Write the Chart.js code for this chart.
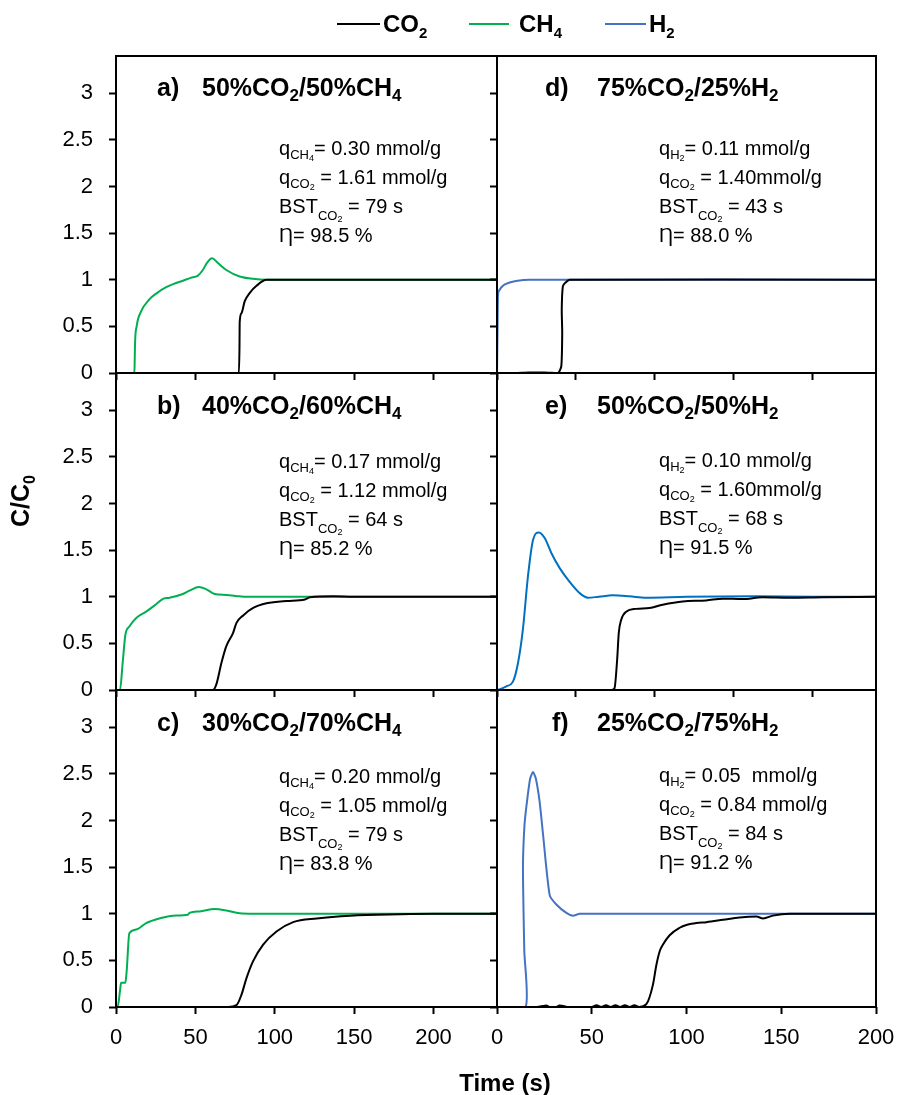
<!DOCTYPE html>
<html>
<head>
<meta charset="utf-8">
<script src="https://cdn.jsdelivr.net/npm/chart.js@4.4.1/dist/chart.umd.min.js"></script>
<style>
html,body{margin:0;padding:0;background:#fff;}
#wrap{position:relative;width:897px;height:1095px;overflow:hidden;font-family:"Liberation Sans",Arial,sans-serif;color:#000;background:#fff;}
canvas{position:absolute;left:0;top:0;}
.t{position:absolute;font-weight:bold;font-size:25px;line-height:30px;white-space:nowrap;}
.t .ts{font-size:17px;position:relative;top:5px;}
.ann{position:absolute;font-size:20px;line-height:25px;white-space:nowrap;}
.s1{font-size:13px;position:relative;top:4px;}
.s1b{font-size:13px;position:relative;top:7px;}
.s2{font-size:9px;position:relative;top:2px;}
.leg{position:absolute;font-weight:bold;font-size:24px;line-height:28px;white-space:nowrap;top:10px;}
.leg .ls{font-size:15px;position:relative;top:6px;}
.sw{position:absolute;height:2px;top:23px;}
</style>
</head>
<body>
<div id="wrap">
<canvas id="ca" width="897" height="1095"></canvas>
<canvas id="cb" width="897" height="1095"></canvas>
<canvas id="cc" width="897" height="1095"></canvas>
<canvas id="cd" width="897" height="1095"></canvas>
<canvas id="ce" width="897" height="1095"></canvas>
<canvas id="cf" width="897" height="1095"></canvas>

<!-- legend -->
<div class="sw" style="left:337px;width:43px;background:#000;"></div>
<div class="leg" style="left:383px;">CO<span class="ls">2</span></div>
<div class="sw" style="left:469px;width:40px;background:#00B050;"></div>
<div class="leg" style="left:519px;">CH<span class="ls">4</span></div>
<div class="sw" style="left:605px;width:41px;background:#4472C4;"></div>
<div class="leg" style="left:649px;">H<span class="ls">2</span></div>

<!-- titles -->
<div class="t" style="left:157px;top:72px;">a)</div>
<div class="t" style="left:202px;top:72px;">50%CO<span class="ts">2</span>/50%CH<span class="ts">4</span></div>
<div class="t" style="left:157px;top:390px;">b)</div>
<div class="t" style="left:202px;top:390px;">40%CO<span class="ts">2</span>/60%CH<span class="ts">4</span></div>
<div class="t" style="left:157px;top:707px;">c)</div>
<div class="t" style="left:202px;top:707px;">30%CO<span class="ts">2</span>/70%CH<span class="ts">4</span></div>
<div class="t" style="left:545px;top:72px;">d)</div>
<div class="t" style="left:597px;top:72px;">75%CO<span class="ts">2</span>/25%H<span class="ts">2</span></div>
<div class="t" style="left:545px;top:390px;">e)</div>
<div class="t" style="left:597px;top:390px;">50%CO<span class="ts">2</span>/50%H<span class="ts">2</span></div>
<div class="t" style="left:552px;top:707px;">f)</div>
<div class="t" style="left:597px;top:707px;">25%CO<span class="ts">2</span>/75%H<span class="ts">2</span></div>

<!-- annotations -->
<div class="ann" style="left:279px;top:136px;">q<span class="s1">CH<span class="s2">4</span></span>= 0.30 mmol/g<br>q<span class="s1">CO<span class="s2">2</span></span> = 1.61 mmol/g<br>BST<span class="s1b">CO<span class="s2">2</span></span> = 79 s<br>Ƞ= 98.5 %</div>
<div class="ann" style="left:279px;top:449px;">q<span class="s1">CH<span class="s2">4</span></span>= 0.17 mmol/g<br>q<span class="s1">CO<span class="s2">2</span></span> = 1.12 mmol/g<br>BST<span class="s1b">CO<span class="s2">2</span></span> = 64 s<br>Ƞ= 85.2 %</div>
<div class="ann" style="left:279px;top:764px;">q<span class="s1">CH<span class="s2">4</span></span>= 0.20 mmol/g<br>q<span class="s1">CO<span class="s2">2</span></span> = 1.05 mmol/g<br>BST<span class="s1b">CO<span class="s2">2</span></span> = 79 s<br>Ƞ= 83.8 %</div>
<div class="ann" style="left:659px;top:136px;">q<span class="s1">H<span class="s2">2</span></span>= 0.11 mmol/g<br>q<span class="s1">CO<span class="s2">2</span></span> = 1.40mmol/g<br>BST<span class="s1b">CO<span class="s2">2</span></span> = 43 s<br>Ƞ= 88.0 %</div>
<div class="ann" style="left:659px;top:448px;">q<span class="s1">H<span class="s2">2</span></span>= 0.10 mmol/g<br>q<span class="s1">CO<span class="s2">2</span></span> = 1.60mmol/g<br>BST<span class="s1b">CO<span class="s2">2</span></span> = 68 s<br>Ƞ= 91.5 %</div>
<div class="ann" style="left:659px;top:763px;">q<span class="s1">H<span class="s2">2</span></span>= 0.05&nbsp; mmol/g<br>q<span class="s1">CO<span class="s2">2</span></span> = 0.84 mmol/g<br>BST<span class="s1b">CO<span class="s2">2</span></span> = 84 s<br>Ƞ= 91.2 %</div>

<!-- axis titles -->
<div style="position:absolute;left:22px;top:501px;transform:translate(-50%,-50%) rotate(-90deg);font-weight:bold;font-size:25px;line-height:30px;white-space:nowrap;">C/C<span style="font-size:16px;position:relative;top:6px;">0</span></div>
<div style="position:absolute;left:505px;top:1083px;transform:translate(-50%,-50%);font-weight:bold;font-size:24px;line-height:30px;white-space:nowrap;">Time (s)</div>
</div>

<script>
// ---- tick arrays ----
const xTickValues = [0, 50, 100, 150, 200];
const xTickLabels = ['0', '50', '100', '150', '200'];
const yTickValues = [0, 0.5, 1, 1.5, 2, 2.5, 3];
const yTickLabels = ['0', '0.5', '1', '1.5', '2', '2.5', '3'];

// ---- panel a: 50%CO2/50%CH4 ----
const aTimeCO2 = [0, 77.4, 77.8, 77.9, 79, 81.1, 84.3, 88.5, 94.8, 240];
const aCO2     = [0, 0, 0.3, 0.54, 0.64, 0.77, 0.86, 0.935, 1.0, 1.0];
const aTimeCH4 = [0, 11.6, 11.8, 12.0, 13.0, 15.8, 21, 26, 31.6, 37, 42.1, 47, 51.6, 54.7, 57.3, 60.5, 64.2, 69.5, 77.9, 86.3, 94.8, 240];
const aCH4     = [0, 0, 0.15, 0.32, 0.5, 0.66, 0.79, 0.86, 0.92, 0.96, 0.99, 1.02, 1.045, 1.105, 1.18, 1.23, 1.18, 1.105, 1.035, 1.01, 1.0, 1.0];

// ---- panel b: 40%CO2/60%CH4 ----
const bTimeCO2 = [0, 61.1, 63.2, 66.4, 69.5, 73.7, 75.9, 80.1, 86.4, 94.8, 107.5, 119, 122.2, 136.9, 149.6, 240];
const bCO2     = [0, 0, 0.06, 0.29, 0.47, 0.61, 0.72, 0.80, 0.88, 0.93, 0.955, 0.97, 0.995, 1.005, 1.0, 1.0];
const bTimeCH4 = [0, 2.5, 4.2, 5.9, 8.4, 12.6, 19, 25.3, 29.9, 33.7, 42.1, 46.3, 52.2, 56.9, 62.1, 69.5, 77.9, 82.1, 240];
const bCH4     = [0, 0, 0.29, 0.59, 0.68, 0.77, 0.84, 0.92, 0.98, 0.99, 1.03, 1.065, 1.105, 1.08, 1.03, 1.02, 1.005, 1.0, 1.0];

// ---- panel c: 30%CO2/70%CH4 ----
const cTimeCO2 = [0, 70.6, 75.9, 79, 82.2, 86.3, 92.7, 101.1, 111.6, 126.4, 147.5, 179, 200, 240];
const cCO2     = [0, 0, 0.02, 0.13, 0.31, 0.49, 0.67, 0.81, 0.91, 0.95, 0.98, 0.995, 1.0, 1.0];
const cTimeCH4 = [0, 1.0, 2.5, 3.2, 5.9, 6.7, 8.4, 12.6, 19, 27.4, 35.8, 45.3, 46.3, 52.7, 62.1, 69.5, 77.9, 86.4, 240];
const cCH4     = [0, 0, 0.17, 0.26, 0.26, 0.38, 0.79, 0.83, 0.9, 0.95, 0.98, 0.99, 1.01, 1.025, 1.05, 1.035, 1.005, 1.0, 1.0];

// ---- panel d: 75%CO2/25%H2 ----
const dTimeCO2 = [0, 11.4, 20, 30, 38.6, 40.7, 41.3, 41.0, 41.7, 43.4, 46, 240];
const dCO2     = [0, 0, 0.005, 0.005, 0, 0.07, 0.43, 0.68, 0.93, 0.97, 1.0, 1.0];
const dTimeH2  = [0, 0.3, 0.6, 1.2, 2.8, 5, 8, 13, 20.6, 240];
const dH2      = [0, 0.4, 0.82, 0.88, 0.92, 0.95, 0.97, 0.99, 1.0, 1.0];

// ---- panel e: 50%CO2/50%H2 ----
const eTimeCO2 = [0, 72.3, 74.4, 76.1, 77.1, 78.6, 81.8, 88.1, 96.5, 104.9, 117.6, 132.4, 142.9, 155.5, 168.1, 185, 206, 240];
const eCO2     = [0, 0, 0.02, 0.33, 0.61, 0.75, 0.84, 0.87, 0.88, 0.915, 0.95, 0.96, 0.98, 0.975, 0.995, 0.99, 0.995, 1.0];
const eTimeH2  = [0, 2, 5.9, 10.1, 13.3, 16.4, 19.6, 22.8, 26.5, 30.2, 34.4, 39.6, 46, 52.3, 57.5, 64.4, 73.3, 83.8, 94.3, 120, 164, 200, 240];
const eH2      = [0, 0.01, 0.04, 0.09, 0.29, 0.65, 1.22, 1.61, 1.69, 1.63, 1.47, 1.31, 1.16, 1.04, 0.99, 1.0, 1.015, 1.005, 0.99, 1.0, 1.005, 1.0, 1.0];

// ---- panel f: 25%CO2/75%H2 ----
const fTimeCO2 = [0, 15, 20, 24, 26, 28, 31, 33, 35, 37, 40, 45, 50, 52.5, 55, 57.5, 60, 62.5, 65, 67.5, 70, 72.5, 75, 78.8, 82.3, 84.1, 85.9, 87.6, 91.1, 96.4, 99.9, 105.2, 110.5, 119.3, 128, 136.9, 140.4, 145.6, 154.5, 200];
const fCO2     = [0, 0, 0, 0.01, 0.015, 0.0, 0.0, 0.015, 0.01, 0.0, 0.0, 0.0, 0.0, 0.02, 0.0, 0.02, 0.0, 0.02, 0.0, 0.02, 0.0, 0.02, 0.0, 0.03, 0.24, 0.45, 0.6, 0.67, 0.77, 0.85, 0.88, 0.9, 0.91, 0.935, 0.96, 0.97, 0.95, 0.98, 1.0, 1.0];
const fTimeH2  = [0, 15.1, 14.4, 13.7, 14.5, 15.8, 17.5, 19, 20.5, 22.5, 24.3, 27.8, 31.3, 36.6, 40.1, 43.6, 200];
const fH2      = [0, 0, 0.6, 1.49, 1.95, 2.2, 2.45, 2.52, 2.45, 2.2, 1.85, 1.2, 1.1, 1.01, 0.98, 1.0, 1.0];

const COL_CO2 = '#000000';
const COL_CH4 = '#00B050';
const COL_H2 = '#4472C4';
const COL_H2e = '#0070C0';

function pts(t, v) { return t.map((x, i) => ({ x: x, y: v[i] })); }

const boxPlugin = {
  id: 'box',
  afterDraw(chart) {
    const { ctx, chartArea: a } = chart;
    ctx.save();
    ctx.strokeStyle = '#000';
    ctx.lineWidth = 2;
    ctx.strokeRect(a.left, a.top, a.right - a.left, a.bottom - a.top);
    ctx.restore();
  }
};

const FONT = '"Liberation Sans", Arial, sans-serif';
const W = 897, H = 1095, YW = 100, XH = 45;

function makePanel(id, box, xMax, series, showX, showY) {
  const ctx = document.getElementById(id).getContext('2d');
  new Chart(ctx, {
    type: 'line',
    data: {
      datasets: series.map(s => ({
        data: pts(s.t, s.v),
        borderColor: s.color,
        borderWidth: 2,
        pointRadius: 0,
        fill: false,
        cubicInterpolationMode: s.mono ? 'monotone' : 'default',
        tension: s.mono ? 0 : 0.2
      }))
    },
    options: {
      responsive: false,
      animation: false,
      devicePixelRatio: 1,
      events: [],
      layout: {
        autoPadding: false,
        padding: { left: box.l - YW, top: box.t, right: W - box.r, bottom: H - box.b - XH }
      },
      plugins: { legend: { display: false }, tooltip: { enabled: false } },
      scales: {
        x: {
          type: 'linear', min: 0, max: xMax,
          afterBuildTicks(s) { s.ticks = xTickValues.map(v => ({ value: v })); },
          afterFit(s) { s.height = XH; s.paddingLeft = 0; s.paddingRight = 0; },
          grid: { display: true, drawOnChartArea: false, drawTicks: true, tickLength: 7, tickWidth: 2, tickColor: '#000' },
          border: { display: false },
          ticks: {
            display: showX, autoSkip: false, maxRotation: 0, padding: 11, color: '#000',
            font: { family: FONT, size: 22 },
            callback: (v, i) => xTickLabels[i]
          }
        },
        y: {
          type: 'linear', min: 0, max: 3.4,
          afterBuildTicks(s) { s.ticks = yTickValues.map(v => ({ value: v })); },
          afterFit(s) { s.width = YW; s.paddingTop = 0; s.paddingBottom = 0; },
          grid: { display: true, drawOnChartArea: false, drawTicks: true, tickLength: 7, tickWidth: 2, tickColor: '#000' },
          border: { display: false },
          ticks: {
            display: showY, padding: 16, color: '#000',
            font: { family: FONT, size: 22 },
            callback: (v, i) => yTickLabels[i]
          }
        }
      }
    },
    plugins: [boxPlugin]
  });
}

const L1 = 116, R1 = 497, L2 = 497, R2 = 876;
const T1 = 56, B1 = 373, T2 = 373, B2 = 690, T3 = 690, B3 = 1007;

makePanel('ca', { l: L1, r: R1, t: T1, b: B1 }, 240, [
  { t: aTimeCO2, v: aCO2, color: COL_CO2, mono: true },
  { t: aTimeCH4, v: aCH4, color: COL_CH4, mono: true }
], false, true);
makePanel('cb', { l: L1, r: R1, t: T2, b: B2 }, 240, [
  { t: bTimeCO2, v: bCO2, color: COL_CO2, mono: true },
  { t: bTimeCH4, v: bCH4, color: COL_CH4, mono: true }
], false, true);
makePanel('cc', { l: L1, r: R1, t: T3, b: B3 }, 240, [
  { t: cTimeCO2, v: cCO2, color: COL_CO2, mono: true },
  { t: cTimeCH4, v: cCH4, color: COL_CH4, mono: true }
], true, true);
makePanel('cd', { l: L2, r: R2, t: T1, b: B1 }, 240, [
  { t: dTimeCO2, v: dCO2, color: COL_CO2, mono: false },
  { t: dTimeH2, v: dH2, color: COL_H2, mono: true }
], false, false);
makePanel('ce', { l: L2, r: R2, t: T2, b: B2 }, 240, [
  { t: eTimeCO2, v: eCO2, color: COL_CO2, mono: true },
  { t: eTimeH2, v: eH2, color: COL_H2e, mono: true }
], false, false);
makePanel('cf', { l: L2, r: R2, t: T3, b: B3 }, 200, [
  { t: fTimeCO2, v: fCO2, color: COL_CO2, mono: true },
  { t: fTimeH2, v: fH2, color: COL_H2, mono: false }
], true, false);
</script>
</body>
</html>
